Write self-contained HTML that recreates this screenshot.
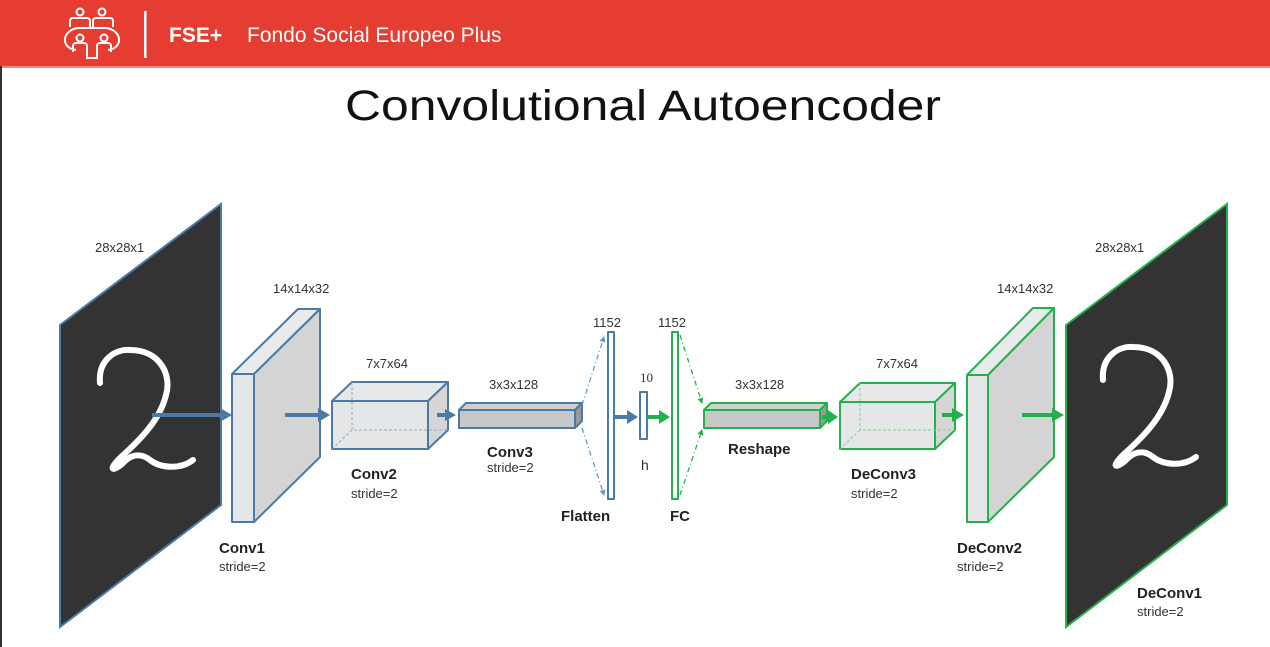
<!DOCTYPE html>
<html><head><meta charset="utf-8"><style>
html,body{margin:0;padding:0;background:#fff;}
svg{display:block}
</style></head><body>
<svg width="1270" height="647" viewBox="0 0 1270 647" xmlns="http://www.w3.org/2000/svg" font-family="Liberation Sans, sans-serif">
<defs>
<marker id="ab" markerWidth="6" markerHeight="6" refX="5" refY="3" orient="auto" markerUnits="userSpaceOnUse"><path d="M0,0 L6,3 L0,6 z" fill="#5b9bd5"/></marker>
<marker id="ag" markerWidth="6" markerHeight="6" refX="5" refY="3" orient="auto" markerUnits="userSpaceOnUse"><path d="M0,0 L6,3 L0,6 z" fill="#22b14c"/></marker>
</defs>
<rect x="0" y="0" width="1270" height="66" fill="#e53d31"/>
<rect x="0" y="66" width="1270" height="2" fill="#f08a80"/>
<rect x="0" y="66" width="2" height="581" fill="#333"/>
<!-- icon -->
<g fill="none" stroke="#fff" stroke-width="2">
<circle cx="80" cy="12" r="3.5"/><circle cx="102" cy="12" r="3.5"/>
<path d="M70,27 v-6 a3,3 0 0 1 3,-3 h14 a3,3 0 0 1 3,3 v6"/>
<path d="M93,27 v-6 a3,3 0 0 1 3,-3 h14 a3,3 0 0 1 3,3 v6"/>
<path d="M76,50 C60,48 62,30 78,28 h28 C122,30 124,48 108,50"/>
<circle cx="80" cy="38" r="3.5"/><circle cx="104" cy="38" r="3.5"/>
<path d="M73,52 v-6 a3,3 0 0 1 3,-3 h8 a3,3 0 0 1 3,3 v12 h10 v-12 a3,3 0 0 1 3,-3 h8 a3,3 0 0 1 3,3 v6"/>
</g>
<rect x="144" y="11" width="2.5" height="47" fill="#fff"/>
<text x="169" y="42" font-size="21" font-weight="bold" fill="#fff">FSE+</text>
<text x="247" y="42" font-size="21" fill="#fff">Fondo Social Europeo Plus</text>
<text x="345" y="120" font-size="43" fill="#111" textLength="596" lengthAdjust="spacingAndGlyphs">Convolutional Autoencoder</text>

<!-- left panel -->
<polygon points="60,325 221,204 221,505 60,627" fill="#333" stroke="#4a7aa5" stroke-width="2"/>
<path d="M100,383 C98,360 115,349 130,350 C160,350 172,375 166,395 C160,420 140,440 120,458 C108,470 112,472 122,464 C130,455 140,452 150,460 C160,468 180,470 193,460" fill="none" stroke="#fff" stroke-width="6" stroke-linecap="round"/>
<!-- right panel -->
<polygon points="1066,325 1227,204 1227,505 1066,627" fill="#333" stroke="#22b14c" stroke-width="2"/>
<path d="M1103,380 C1101,357 1118,346 1133,347 C1163,347 1175,372 1169,392 C1163,417 1143,437 1123,455 C1111,467 1115,469 1125,461 C1133,452 1143,449 1153,457 C1163,465 1183,467 1196,457" fill="none" stroke="#fff" stroke-width="6" stroke-linecap="round"/>

<g stroke="#4a7aa5" stroke-width="2" stroke-linejoin="round">
<polygon points="232,374 254,374 320,309 298,309" fill="#e8eaec"/>
<polygon points="254,374 320,309 320,457 254,522" fill="#d4d4d4"/>
<rect x="232" y="374" width="22" height="148" fill="#e4e6e8"/>
<polygon points="332,401 352,382 448,382 428,401" fill="#e6e8ea"/>
<polygon points="428,401 448,382 448,430 428,449" fill="#d6d6d6"/>
<rect x="332" y="401" width="96" height="48" fill="#e4e6e8"/>
<polygon points="459,410 466,403 582,403 575,410" fill="#d0d0d0"/>
<polygon points="575,410 582,403 582,421 575,428" fill="#999"/>
<rect x="459" y="410" width="116" height="18" fill="#c8c8c8"/>
<rect x="608" y="332" width="6" height="167" fill="#fff"/>
<rect x="640" y="392" width="7" height="47" fill="#fff"/>
</g>
<g stroke="#22b14c" stroke-width="2" stroke-linejoin="round">
<rect x="672" y="332" width="6" height="167" fill="#fff"/>
<polygon points="704,410 711,403 827,403 820,410" fill="#d0d0d0"/>
<polygon points="820,410 827,403 827,421 820,428" fill="#999"/>
<rect x="704" y="410" width="116" height="18" fill="#c8c8c8"/>
<polygon points="840,402 860,383 955,383 935,402" fill="#e6e8ea"/>
<polygon points="935,402 955,383 955,430 935,449" fill="#d6d6d6"/>
<rect x="840" y="402" width="95" height="47" fill="#e4e6e8"/>
<polygon points="967,375 988,375 1054,308 1033,308" fill="#e8eaec"/>
<polygon points="988,375 1054,308 1054,457 988,522" fill="#d4d4d4"/>
<rect x="967" y="375" width="21" height="147" fill="#e4e6e8"/>
</g>
<g stroke="#9ab" stroke-width="1" stroke-dasharray="3,2" fill="none">
<path d="M352,382 V430 H448 M352,430 L332,449"/>
</g>
<g stroke="#8c8" stroke-width="1" stroke-dasharray="3,2" fill="none">
<path d="M860,383 V430 H955 M860,430 L840,449"/>
</g>
<g fill="#4a7aa5">
<rect x="152" y="413" width="70" height="4"/><polygon points="220,408 232,415 220,422"/>
<rect x="285" y="413" width="35" height="4"/><polygon points="318,408 330,415 318,422"/>
<rect x="437" y="413" width="10" height="4"/><polygon points="445,409 456,415 445,421"/>
<rect x="615" y="415" width="14" height="4"/><polygon points="627,410 638,417 627,424"/>
</g>
<g fill="#22b14c">
<rect x="647" y="415" width="14" height="4"/><polygon points="659,410 670,417 659,424"/>
<rect x="822" y="415" width="8" height="4"/><polygon points="828,410 838,417 828,424"/>
<rect x="942" y="413" width="12" height="4"/><polygon points="952,408 964,415 952,422"/>
<rect x="1022" y="413" width="32" height="4"/><polygon points="1052,408 1064,415 1052,422"/>
</g>
<g stroke-width="1.3" stroke-dasharray="5,3,1,3" fill="none">
<path d="M582,405 L604,337" stroke="#5b9bd5" marker-end="url(#ab)"/>
<path d="M582,428 L604,495" stroke="#5b9bd5" marker-end="url(#ab)"/>
<path d="M680,335 L702,403" stroke="#22b14c" marker-end="url(#ag)"/>
<path d="M680,495 L702,430" stroke="#22b14c" marker-end="url(#ag)"/>
</g>
<g font-size="13" fill="#333">
<text x="95" y="252">28x28x1</text>
<text x="273" y="293">14x14x32</text>
<text x="366" y="368">7x7x64</text>
<text x="489" y="389">3x3x128</text>
<text x="593" y="327">1152</text>
<text x="658" y="327">1152</text>
<text x="640" y="382" font-family="Liberation Serif, serif">10</text>
<text x="641" y="470" font-size="14">h</text>
<text x="735" y="389">3x3x128</text>
<text x="876" y="368">7x7x64</text>
<text x="997" y="293">14x14x32</text>
<text x="1095" y="252">28x28x1</text>
<text x="219" y="571">stride=2</text>
<text x="351" y="498">stride=2</text>
<text x="487" y="472">stride=2</text>
<text x="851" y="498">stride=2</text>
<text x="957" y="571">stride=2</text>
<text x="1137" y="616">stride=2</text>
</g>
<g font-size="15" font-weight="bold" fill="#222">
<text x="219" y="553">Conv1</text>
<text x="351" y="479">Conv2</text>
<text x="487" y="457">Conv3</text>
<text x="561" y="521">Flatten</text>
<text x="670" y="521">FC</text>
<text x="728" y="454">Reshape</text>
<text x="851" y="479">DeConv3</text>
<text x="957" y="553">DeConv2</text>
<text x="1137" y="598">DeConv1</text>
</g>
</svg>
</body></html>
